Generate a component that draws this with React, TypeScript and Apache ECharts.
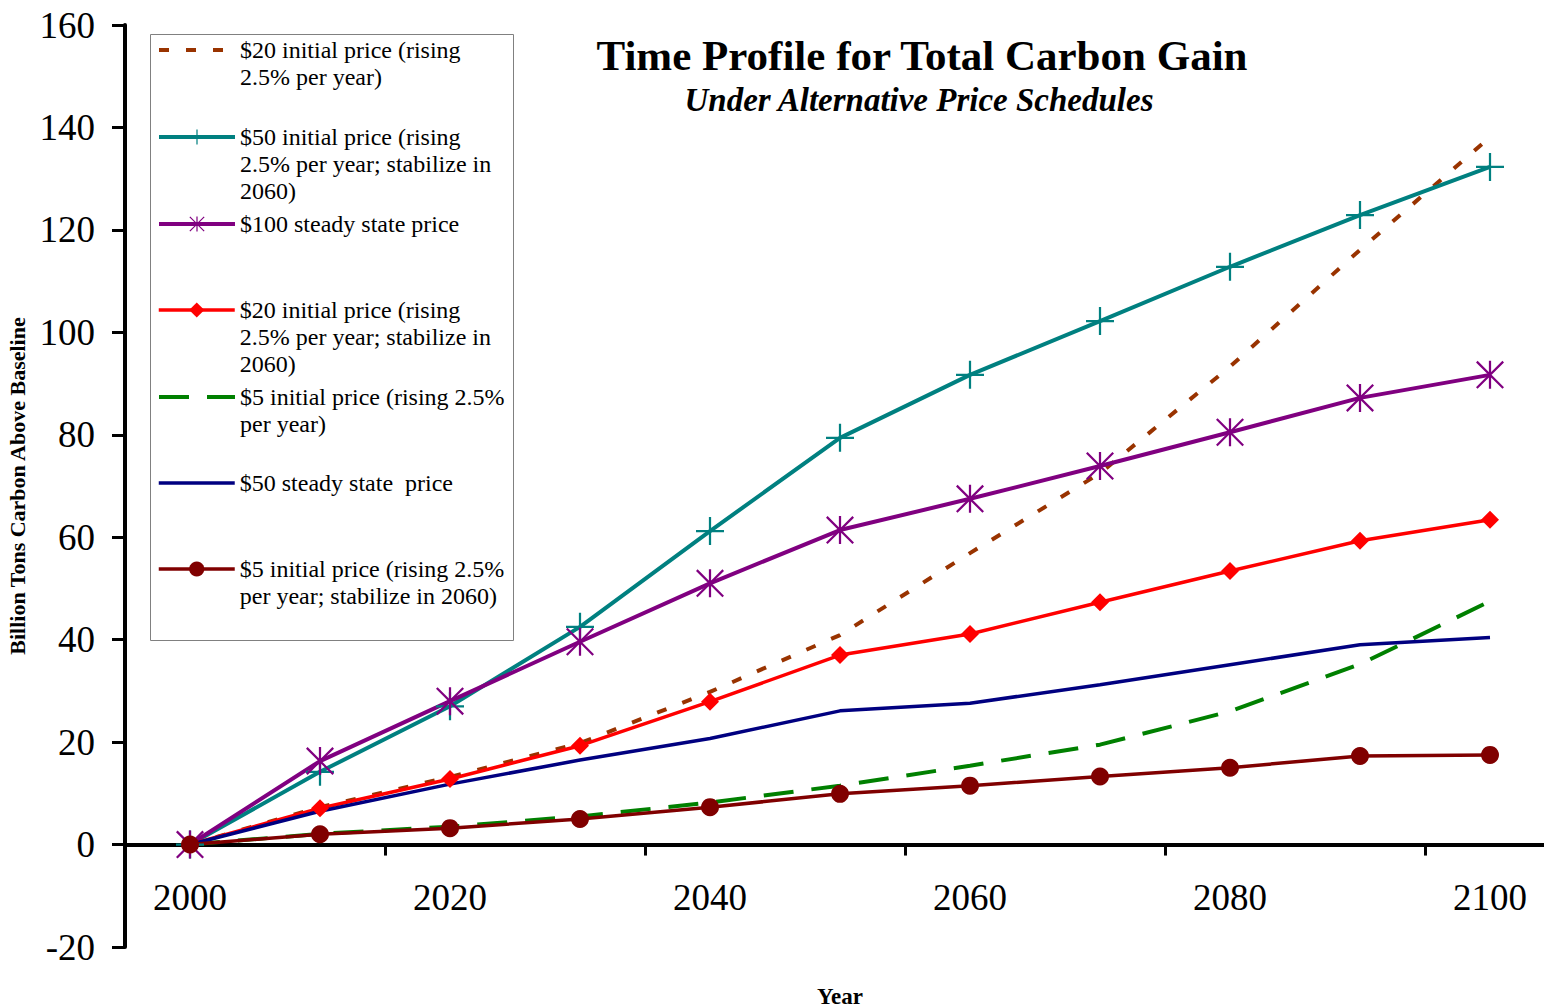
import React, { useEffect, useRef } from "react";
import * as echarts from "echarts";

const years = ["2000", "2010", "2020", "2030", "2040", "2050", "2060", "2070", "2080", "2090", "2100"];

const names = [
  "$20 initial price (rising\n2.5% per year)",
  "$50 initial price (rising\n2.5% per year; stabilize in\n2060)",
  "$100 steady state price",
  "$20 initial price (rising\n2.5% per year; stabilize in\n2060)",
  "$5 initial price (rising 2.5%\nper year)",
  "$50 steady state  price",
  "$5 initial price (rising 2.5%\nper year; stabilize in 2060)",
];

const s20Rising = [0, 7.3, 13.2, 19.8, 29.8, 40.9, 56.9, 72.5, 93.3, 116.1, 138.1];
const s50Stab = [0, 14.2, 27.0, 42.5, 61.2, 79.4, 91.7, 102.2, 112.8, 122.9, 132.3];
const s100Steady = [0, 16.3, 28.0, 39.6, 51.0, 61.4, 67.5, 73.9, 80.5, 87.2, 91.7];
const s20Stab = [0, 7.1, 12.8, 19.3, 27.9, 37.0, 41.1, 47.3, 53.4, 59.3, 63.4];
const s5Rising = [0, 2.1, 3.5, 5.5, 8.2, 11.5, 15.4, 19.5, 26.0, 35.2, 47.5];
const s50Steady = [0, 6.5, 11.8, 16.5, 20.7, 26.1, 27.6, 31.2, 35.1, 39.0, 40.4];
const s5Stab = [0, 2.0, 3.2, 5.0, 7.3, 9.9, 11.5, 13.3, 15.0, 17.3, 17.5];

const FONT = "'Liberation Serif', 'Times New Roman', serif";

const PLUS = "path://M46,0 L54,0 L54,100 L46,100 Z M0,46 L100,46 L100,54 L0,54 Z";
const STAR =
  "path://M46,0 L54,0 L54,100 L46,100 Z M0,5.66 L5.66,0 L100,94.34 L94.34,100 Z M94.34,0 L100,5.66 L5.66,100 L0,94.34 Z";

export default function App() {
  const ref = useRef<HTMLDivElement>(null);

  useEffect(() => {
    if (!ref.current) return;
    const chart = echarts.init(ref.current, null, { renderer: "svg" });

    const seriesDefs = [
      { data: s20Rising, color: "#993300", width: 4, type: [10, 17], symbol: "none", size: 0 },
      { data: s50Stab, color: "#008080", width: 4, type: "solid", symbol: PLUS, size: 28 },
      { data: s100Steady, color: "#800080", width: 4, type: "solid", symbol: STAR, size: 28 },
      { data: s20Stab, color: "#FF0000", width: 3.5, type: "solid", symbol: "diamond", size: 18 },
      { data: s5Rising, color: "#008000", width: 4, type: [30, 18], symbol: "none", size: 0 },
      { data: s50Steady, color: "#000080", width: 3.5, type: "solid", symbol: "none", size: 0 },
      { data: s5Stab, color: "#800000", width: 3.5, type: "solid", symbol: "circle", size: 18 },
    ];

    const legendIconY = [50, 137, 224, 310, 397, 483, 569];
    const legendLines = [2, 3, 1, 3, 2, 1, 2];
    const LH = 27;

    const legends = names.map((n, i) => {
      const lines = legendLines[i];
      const H = (2 * lines - 1) * LH;
      const d = seriesDefs[i];
      const pad = "\n".repeat(lines - 1);
      return {
        data: [n],
        formatter: (name: string) => pad + name,
        left: 157,
        top: legendIconY[i] - H / 2,
        padding: 0,
        orient: "vertical",
        itemWidth: 76,
        itemHeight: 19,
        itemGap: 0,
        selectedMode: false,
        textStyle: { fontFamily: FONT, fontSize: 24, lineHeight: LH, color: "#000" },
        lineStyle: { width: d.width },
        itemStyle: d.symbol === "none" ? { opacity: 0 } : {},
      };
    });

    chart.setOption({
      animation: false,
      backgroundColor: "#fff",
      grid: {
        left: 125,
        top: 25,
        right: -11,
        bottom: 61,
        containLabel: false,
        outerBoundsMode: "none",
      },
      legend: legends,
      graphic: [
        {
          type: "rect",
          z: 0,
          shape: { x: 150.5, y: 34.5, width: 363, height: 606 },
          style: { fill: "#fff", stroke: "#808080", lineWidth: 1 },
        },
        {
          type: "text",
          x: 922,
          y: 55,
          style: {
            text: "Time Profile for Total Carbon Gain",
            fill: "#000",
            font: `bold 43px ${FONT}`,
            align: "center",
            verticalAlign: "middle",
            textAlign: "center",
            textVerticalAlign: "middle",
          },
        },
        {
          type: "text",
          x: 919,
          y: 100,
          style: {
            text: "Under Alternative Price Schedules",
            fill: "#000",
            font: `italic bold 33px ${FONT}`,
            align: "center",
            verticalAlign: "middle",
            textAlign: "center",
            textVerticalAlign: "middle",
          },
        },
      ],
      xAxis: {
        type: "category",
        data: years,
        boundaryGap: true,
        name: "Year",
        nameLocation: "middle",
        nameGap: 38,
        nameMoveOverlap: false,
        nameTextStyle: { fontFamily: FONT, fontSize: 23, fontWeight: "bold", color: "#000" },
        axisLine: { show: true, onZero: true, lineStyle: { color: "#000", width: 4 } },
        axisTick: { show: true, interval: 1, length: 11, lineStyle: { color: "#000", width: 3 } },
        axisLabel: { interval: 1, margin: -68, fontFamily: FONT, fontSize: 37, color: "#000" },
        splitLine: { show: false },
      },
      yAxis: {
        type: "value",
        min: -20,
        max: 160,
        interval: 20,
        name: "Billion Tons Carbon Above Baseline",
        nameLocation: "middle",
        nameGap: 89,
        nameTextStyle: { fontFamily: FONT, fontSize: 22, fontWeight: "bold", color: "#000" },
        axisLine: { show: true, lineStyle: { color: "#000", width: 4 } },
        axisTick: { show: true, length: 13, lineStyle: { color: "#000", width: 3 } },
        axisLabel: { margin: 30, fontFamily: FONT, fontSize: 37, color: "#000" },
        splitLine: { show: false },
      },
      series: seriesDefs.map((d, i) => ({
        name: names[i],
        type: "line",
        data: d.data,
        symbol: d.symbol,
        symbolSize: d.size,
        symbolKeepAspect: true,
        showAllSymbol: true,
        silent: true,
        color: d.color,
        lineStyle: { color: d.color, width: d.width, type: d.type },
        itemStyle: { color: d.color, borderWidth: 0 },
        emphasis: { disabled: true },
      })),
    });

    return () => chart.dispose();
  }, []);

  return (
    <div
      ref={ref}
      style={{ position: "absolute", left: 0, top: 0, width: 1544, height: 1008 }}
    />
  );
}
